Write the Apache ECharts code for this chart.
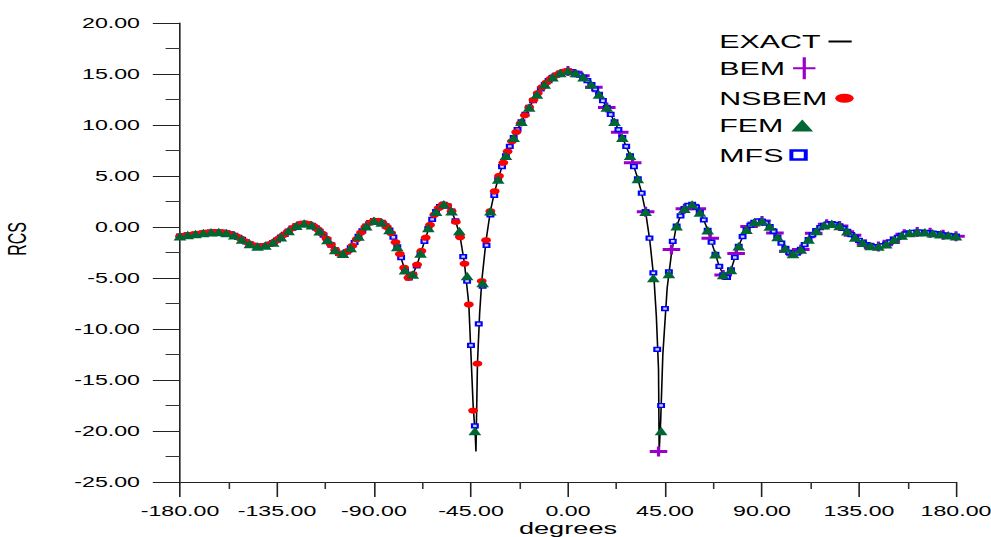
<!DOCTYPE html>
<html><head><meta charset="utf-8">
<script src="https://cdn.jsdelivr.net/npm/echarts@6/dist/echarts.min.js"></script>
<style>
html,body{margin:0;padding:0;background:#fff;overflow:hidden;width:991px;height:537px;}
#chart{width:620px;height:537px;transform:scaleX(1.598387);transform-origin:0 0;}
</style></head><body><div id="chart"></div>
<script>
// EXACT solution (black line), [degrees, RCS]
const exactData = [
[-180,-0.90],[-178,-0.85],[-176,-0.79],[-174,-0.73],[-172,-0.67],[-170,-0.61],[-168,-0.56],[-166,-0.52],[-164,-0.50],[-162,-0.50],
[-160,-0.53],[-158,-0.60],[-156,-0.72],[-154,-0.90],[-152,-1.12],[-150,-1.38],[-148,-1.62],[-146,-1.80],[-144,-1.90],[-142,-1.88],
[-140,-1.80],[-138,-1.65],[-136,-1.42],[-134,-1.12],[-132,-0.80],[-130,-0.46],[-128,-0.14],[-126,0.12],[-124,0.30],[-122,0.35],
[-120,0.28],[-118,0.08],[-116,-0.25],[-114,-0.65],[-112,-1.15],[-110,-1.72],[-108,-2.25],[-106,-2.62],[-104,-2.60],[-102,-2.35],
[-100,-1.85],[-98,-1.20],[-96,-0.55],[-94,0.00],[-92,0.40],[-90,0.62],[-88,0.60],[-86,0.40],[-84,0.00],[-82,-0.60],
[-80,-1.50],[-78,-2.65],[-76,-4.00],[-74,-4.98],[-72,-4.65],[-70,-3.70],[-68,-2.35],[-66,-1.05],[-64,0.20],[-62,1.20],
[-60,1.85],[-58,2.22],[-56,2.10],[-54,1.55],[-52,0.50],[-50,-1.00],[-48,-3.60],[-46,-7.60],[-44,-17.50],[-43,-20.50],
[-42.7,-22.00],[-42,-13.40],[-41,-8.50],[-40,-5.30],[-38,-1.30],[-36,1.55],[-34,3.50],[-32,5.00],[-30,6.30],[-28,7.40],
[-26,8.40],[-24,9.30],[-22,10.15],[-20,10.95],[-18,11.72],[-16,12.45],[-14,13.12],[-12,13.70],[-10,14.15],[-8,14.55],
[-6,14.83],[-4,15.05],[-2,15.23],[0,15.30],[2,15.23],[4,15.05],[6,14.83],[8,14.55],[10,14.15],[12,13.70],
[14,13.12],[16,12.45],[18,11.72],[20,10.95],[22,10.15],[24,9.30],[26,8.40],[28,7.40],[30,6.30],[32,5.00],
[34,3.50],[36,1.50],[38,-1.40],[40,-5.40],[41,-8.80],[42,-14.00],[42.3,-22.00],[43,-19.00],[44,-12.50],[46,-6.00],
[48,-2.60],[50,-0.20],[52,1.00],[54,1.80],[56,2.15],[58,2.20],[60,1.80],[62,1.15],[64,0.15],[66,-1.10],
[68,-2.40],[70,-3.75],[72,-4.70],[74,-4.95],[76,-3.95],[78,-2.60],[80,-1.45],[82,-0.55],[84,0.05],[86,0.42],
[88,0.60],[90,0.58],[92,0.36],[94,-0.05],[96,-0.60],[98,-1.25],[100,-1.90],[102,-2.38],[104,-2.63],[106,-2.58],
[108,-2.20],[110,-1.68],[112,-1.12],[114,-0.62],[116,-0.22],[118,0.08],[120,0.26],[122,0.33],[124,0.27],[126,0.10],
[128,-0.16],[130,-0.48],[132,-0.82],[134,-1.15],[136,-1.44],[138,-1.68],[140,-1.84],[142,-1.92],[144,-1.92],[146,-1.82],
[148,-1.64],[150,-1.40],[152,-1.14],[154,-0.91],[156,-0.72],[158,-0.59],[160,-0.52],[162,-0.49],[164,-0.50],[166,-0.53],
[168,-0.57],[170,-0.63],[172,-0.69],[174,-0.75],[176,-0.81],[178,-0.87],[180,-0.90]
];
// BEM (purple crosses), positive angles
const bemData = [
[0,15.30],[6,14.83],[12,13.70],[18,11.72],[24,9.30],[30,6.30],[36,1.50],[42,-22.00],[48,-2.20],[54,1.80],
[60,1.80],[66,-1.10],[72,-4.70],[78,-2.60],[84,0.05],[90,0.58],[96,-0.60],[102,-2.38],[108,-2.20],[114,-0.62],
[120,0.26],[126,0.10],[132,-0.82],[138,-1.68],[144,-1.92],[150,-1.40],[156,-0.72],[162,-0.49],[168,-0.57],[174,-0.75],
[180,-0.90]
];
// NSBEM (red dots), negative angles
const nsbemData = [
[-180,-0.90],[-178,-0.85],[-176,-0.79],[-174,-0.73],[-172,-0.67],[-170,-0.61],[-168,-0.56],[-166,-0.52],[-164,-0.50],[-162,-0.50],
[-160,-0.53],[-158,-0.60],[-156,-0.72],[-154,-0.90],[-152,-1.12],[-150,-1.38],[-148,-1.62],[-146,-1.80],[-144,-1.90],[-142,-1.88],
[-140,-1.80],[-138,-1.65],[-136,-1.42],[-134,-1.12],[-132,-0.80],[-130,-0.46],[-128,-0.14],[-126,0.12],[-124,0.30],[-122,0.35],
[-120,0.28],[-118,0.08],[-116,-0.25],[-114,-0.65],[-112,-1.15],[-110,-1.72],[-108,-2.25],[-106,-2.62],[-104,-2.60],[-102,-2.35],
[-100,-1.85],[-98,-1.20],[-96,-0.55],[-94,0.00],[-92,0.40],[-90,0.62],[-88,0.60],[-86,0.40],[-84,0.00],[-82,-0.60],
[-80,-1.50],[-78,-2.65],[-76,-4.00],[-74,-4.98],[-72,-4.65],[-70,-3.70],[-68,-2.35],[-66,-1.05],[-64,0.20],[-62,1.20],
[-60,1.85],[-58,2.22],[-56,2.10],[-54,1.55],[-52,0.50],[-50,-1.00],[-48,-3.60],[-46,-7.60],[-44,-18.00],[-42,-13.40],
[-40,-5.30],[-38,-1.30],[-36,1.55],[-34,3.50],[-32,5.00],[-30,6.30],[-28,7.40],[-26,8.40],[-24,9.30],[-22,10.15],
[-20,10.95],[-18,11.72],[-16,12.45],[-14,13.12],[-12,13.70],[-10,14.15],[-8,14.55],[-6,14.83],[-4,15.05],[-2,15.23],
[0,15.30]
];
// FEM (green triangles)
const femData = [
[-180,-0.90],[-176.4,-0.78],[-172.8,-0.69],[-169.2,-0.60],[-165.6,-0.51],[-162,-0.50],[-158.4,-0.58],[-154.8,-0.82],[-151.2,-1.22],[-147.6,-1.66],
[-144,-1.90],[-140.4,-1.82],[-136.8,-1.52],[-133.2,-1.00],[-129.6,-0.40],[-126,0.12],[-122.4,0.35],[-118.8,0.16],[-115.2,-0.42],[-111.6,-1.27],
[-108,-2.25],[-104.4,-2.62],[-100.8,-2.05],[-97.2,-0.92],[-93.6,0.08],[-90,0.62],[-86.4,0.45],[-82.8,-0.30],[-79.2,-1.95],[-75.6,-4.25],
[-72,-4.65],[-68.4,-2.60],[-64.8,-0.10],[-61.2,1.50],[-57.6,2.22],[-54,1.55],[-50.4,-0.40],[-46.8,-4.80],[-43.2,-20.00],[-39.6,-5.50],
[-36,1.55],[-32.4,4.65],[-28.8,6.98],[-25.2,8.75],[-21.6,10.31],[-18,11.72],[-14.4,13.00],[-10.8,13.97],[-7.2,14.67],[-3.6,15.09],
[0,15.30],[3.6,15.09],[7.2,14.67],[10.8,13.97],[14.4,13.00],[18,11.72],[21.6,10.31],[25.2,8.75],[28.8,6.98],[32.4,4.71],
[36,1.50],[39.6,-5.00],[43.2,-20.00],[46.8,-4.60],[50.4,0.08],[54,1.80],[57.6,2.21],[61.2,1.43],[64.8,-0.33],[68.4,-2.68],
[72,-4.70],[75.6,-4.21],[79.2,-1.89],[82.8,-0.27],[86.4,0.46],[90,0.58],[93.6,0.04],[97.2,-0.99],[100.8,-2.10],[104.4,-2.64],
[108,-2.20],[111.6,-1.23],[115.2,-0.38],[118.8,0.16],[122.4,0.33],[126,0.10],[129.6,-0.42],[133.2,-1.02],[136.8,-1.55],[140.4,-1.86],
[144,-1.92],[147.6,-1.68],[151.2,-1.25],[154.8,-0.83],[158.4,-0.58],[162,-0.49],[165.6,-0.52],[169.2,-0.61],[172.8,-0.71],[176.4,-0.82],
[180,-0.90]
];
// MFS (blue hollow squares)
const mfsData = [
[-180,-0.90],[-178.2,-0.84],[-176.4,-0.78],[-174.6,-0.74],[-172.8,-0.69],[-171,-0.64],[-169.2,-0.60],[-167.4,-0.55],[-165.6,-0.51],[-163.8,-0.50],
[-162,-0.50],[-160.2,-0.53],[-158.4,-0.58],[-156.6,-0.68],[-154.8,-0.82],[-153,-1.01],[-151.2,-1.22],[-149.4,-1.45],[-147.6,-1.66],[-145.8,-1.81],
[-144,-1.90],[-142.2,-1.88],[-140.4,-1.82],[-138.6,-1.70],[-136.8,-1.52],[-135,-1.28],[-133.2,-1.00],[-131.4,-0.73],[-129.6,-0.40],[-127.8,-0.11],
[-126,0.12],[-124.2,0.29],[-122.4,0.35],[-120.6,0.30],[-118.8,0.16],[-117,-0.08],[-115.2,-0.42],[-113.4,-0.80],[-111.6,-1.27],[-109.8,-1.77],
[-108,-2.25],[-106.2,-2.58],[-104.4,-2.62],[-102.6,-2.45],[-100.8,-2.05],[-99,-1.52],[-97.2,-0.92],[-95.4,-0.37],[-93.6,0.08],[-91.8,0.43],
[-90,0.62],[-88.2,0.60],[-86.4,0.45],[-84.6,0.12],[-82.8,-0.30],[-81,-1.00],[-79.2,-1.95],[-77.4,-3.00],[-75.6,-4.30],[-73.8,-4.98],
[-72,-4.65],[-70.2,-3.80],[-68.4,-2.60],[-66.6,-1.40],[-64.8,-0.15],[-63,0.75],[-61.2,1.50],[-59.4,2.00],[-57.6,2.22],[-55.8,2.05],
[-54,1.55],[-52.2,0.60],[-50.4,-0.80],[-48.6,-2.90],[-46.8,-5.30],[-45,-11.60],[-43.2,-19.50],[-41.4,-9.50],[-39.6,-5.80],[-37.8,-1.80],
[-36,1.20],[-34.2,3.10],[-32.4,4.65],[-30.6,5.93],[-28.8,6.98],[-27,7.90],[-25.2,8.76],[-23.4,9.55],[-21.6,10.31],[-19.8,11.03],
[-18,11.72],[-16.2,12.38],[-14.4,13.00],[-12.6,13.53],[-10.8,13.97],[-9,14.36],[-7.2,14.67],[-5.4,14.90],[-3.6,15.09],[-1.8,15.24],
[0,15.30],[1.8,15.24],[3.6,15.09],[5.4,14.90],[7.2,14.67],[9,14.36],[10.8,13.97],[12.6,13.53],[14.4,13.00],[16.2,12.38],
[18,11.72],[19.8,11.03],[21.6,10.31],[23.4,9.55],[25.2,8.76],[27,7.90],[28.8,6.98],[30.6,5.93],[32.4,4.71],[34.2,3.31],
[36,1.50],[37.8,-1.10],[39.6,-4.50],[41.4,-12.00],[43.2,-17.50],[45,-8.00],[46.8,-4.40],[48.6,-1.40],[50.4,0.08],[52.2,1.09],
[54,1.80],[55.8,2.12],[57.6,2.21],[59.4,1.95],[61.2,1.43],[63,0.70],[64.8,-0.33],[66.6,-1.49],[68.4,-2.68],[70.2,-3.86],
[72,-4.70],[73.8,-4.95],[75.6,-4.21],[77.4,-2.99],[79.2,-1.89],[81,-0.95],[82.8,-0.27],[84.6,0.17],[86.4,0.46],[88.2,0.60],
[90,0.58],[91.8,0.39],[93.6,0.04],[95.4,-0.42],[97.2,-0.99],[99,-1.58],[100.8,-2.10],[102.6,-2.48],[104.4,-2.64],[106.2,-2.55],
[108,-2.20],[109.8,-1.73],[111.6,-1.23],[113.4,-0.76],[115.2,-0.36],[117,-0.06],[118.8,0.16],[120.6,0.29],[122.4,0.33],[124.2,0.26],
[126,0.10],[127.8,-0.13],[129.6,-0.42],[131.4,-0.75],[133.2,-1.02],[135,-1.30],[136.8,-1.55],[138.6,-1.73],[140.4,-1.86],[142.2,-1.92],
[144,-1.92],[145.8,-1.83],[147.6,-1.68],[149.4,-1.47],[151.2,-1.24],[153,-1.02],[154.8,-0.83],[156.6,-0.68],[158.4,-0.57],[160.2,-0.52],
[162,-0.49],[163.8,-0.49],[165.6,-0.52],[167.4,-0.56],[169.2,-0.61],[171,-0.66],[172.8,-0.71],[174.6,-0.77],[176.4,-0.82],[178.2,-0.87],
[180,-0.90]
];
const seriesNames = ['EXACT', 'BEM', 'NSBEM', 'FEM', 'MFS'];
const xAxisTitle = 'degrees';
const yAxisTitle = 'RCS';

const FONT = '"Liberation Sans", Arial, Helvetica, sans-serif';
const chart = echarts.init(document.getElementById('chart'), null, {renderer: 'svg'});
const plusPath = 'path://M4.5,0h2v3.5h4.5v3h-4.5v3.5h-2v-3.5h-4.5v-3h4.5z';
const plusLegend = 'path://M6,0h2v10h6v2h-6v10h-2v-10h-6v-2h6z';
const legendText = {fontSize: 19, color: '#000', fontFamily: FONT, lineHeight: 20};
function legendFor(name, top, w, h, extra) {
  return Object.assign({
    show: true, left: 450, top: top, padding: 0, align: 'right', orient: 'horizontal',
    itemWidth: w, itemHeight: h, selectedMode: false, textStyle: legendText,
    data: [name]
  }, extra || {});
}
chart.setOption({
  animation: false,
  backgroundColor: '#fff',
  grid: {left: 112.6, right: 21.9, top: 23, bottom: 55, containLabel: false, outerBoundsMode: 'none'},
  xAxis: {
    type: 'value', min: -180, max: 180, interval: 45,
    name: xAxisTitle, nameLocation: 'middle', nameGap: 37, nameMoveOverlap: false,
    nameTextStyle: {fontSize: 17, color: '#000', fontFamily: FONT, lineHeight: 17},
    axisLine: {show: true, onZero: false, lineStyle: {color: '#222', width: 1}},
    axisTick: {show: true, length: 15, lineStyle: {color: '#222', width: 1}},
    minorTick: {show: true, splitNumber: 2, length: 7, lineStyle: {color: '#333', width: 1}},
    splitLine: {show: false},
    axisLabel: {fontSize: 14.5, lineHeight: 14, color: '#000', fontFamily: FONT, margin: 22, formatter: v => v.toFixed(2)}
  },
  yAxis: {
    type: 'value', min: -25, max: 20, interval: 5,
    axisLine: {show: true, onZero: false, lineStyle: {color: '#222', width: 1}},
    axisTick: {show: true, length: 17, lineStyle: {color: '#222', width: 1}},
    minorTick: {show: true, splitNumber: 2, length: 9, lineStyle: {color: '#333', width: 1}},
    splitLine: {show: false},
    axisLabel: {fontSize: 14.5, color: '#000', fontFamily: FONT, margin: 25, formatter: v => v.toFixed(2)}
  },
  legend: [
    legendFor({name: 'EXACT', icon: 'rect', itemStyle: {color: '#000'}}, 31.5, 14.5, 2),
    legendFor({name: 'BEM', icon: plusLegend, itemStyle: {color: '#9900cc'}}, 57.3, 14, 22),
    legendFor({name: 'NSBEM', icon: 'path://M0,4.5A5.75,4.5,0,1,1,11.5,4.5A5.75,4.5,0,1,1,0,4.5Z', itemStyle: {color: '#ff0000'}}, 88.3, 11.5, 9),
    legendFor({name: 'FEM', icon: 'triangle', itemStyle: {color: '#006633'}}, 115.5, 13.6, 12),
    legendFor({name: 'MFS', icon: 'rect', itemStyle: {color: '#ffffff', borderColor: '#0000ff', borderWidth: 2.5}}, 145, 9, 9)
  ],
  graphic: [{
    type: 'text', left: 3, top: 222, rotation: Math.PI / 2,
    style: {text: yAxisTitle, fontSize: 16, fill: '#000', fontFamily: FONT}
  }],
  series: [
    {name: seriesNames[0], type: 'line', data: exactData, showSymbol: false, symbol: 'none',
     lineStyle: {color: '#000', width: 1}, itemStyle: {color: '#000'}, z: 1, silent: true},
    {name: seriesNames[1], type: 'line', data: bemData, symbol: plusPath, symbolSize: [11, 10],
     lineStyle: {width: 0, opacity: 0}, itemStyle: {color: '#9900cc', opacity: 1}, clip: false, z: 2, silent: true},
    {name: seriesNames[4], type: 'line', data: mfsData, symbol: 'rect', symbolSize: [3.6, 3.8],
     lineStyle: {width: 0, opacity: 0}, itemStyle: {color: '#c8d0ff', borderColor: '#0000ff', borderWidth: 1.4, opacity: 1}, clip: false, z: 3, silent: true},
    {name: seriesNames[2], type: 'line', data: nsbemData, symbol: 'circle', symbolSize: 6.2,
     lineStyle: {width: 0, opacity: 0}, itemStyle: {color: '#ff0000', opacity: 1}, clip: false, z: 4, silent: true},
    {name: seriesNames[3], type: 'line', data: femData, symbol: 'triangle', symbolSize: [8, 8.5],
     lineStyle: {width: 0, opacity: 0}, itemStyle: {color: '#006633', opacity: 1}, clip: false, z: 5, silent: true}
  ]
});
</script></body></html>
